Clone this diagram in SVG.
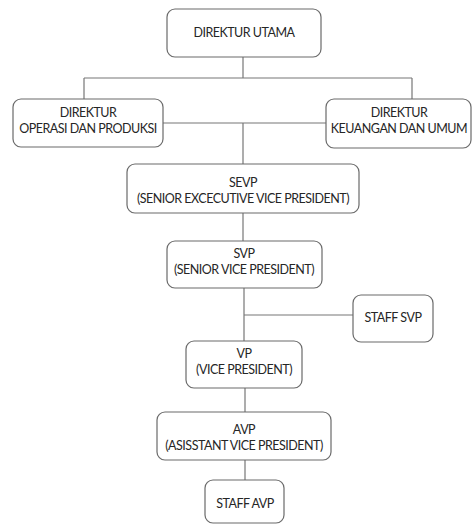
<svg xmlns="http://www.w3.org/2000/svg" width="472" height="525" viewBox="0 0 472 525">
<style>
.box{fill:#fff;stroke:#6a6a6a;stroke-width:1.2}
.ln{stroke:#777;stroke-width:1.2;fill:none}
text{font-family:Lato,"Open Sans","Liberation Sans",sans-serif;font-size:12.5px;fill:#262626;text-anchor:middle;letter-spacing:-0.5px}
</style>
<rect width="472" height="525" fill="#fff"/>
<g id="connectors">
<path class="ln" d="M243 57V78M84 78H412M84 78V99M412 78V99M163 123H326M243 123V164M243 213V241M244 288V341M244 315H353M245 388V412M245 460V480"/>
</g>
<g id="direktur-utama"><rect class="box" x="167" y="9" width="154" height="48" rx="8"/><text x="244" y="37">DIREKTUR UTAMA</text></g>
<g id="direktur-operasi"><rect class="box" x="13" y="99" width="150" height="48" rx="8"/><text x="88" y="117">DIREKTUR</text><text x="88" y="133">OPERASI DAN PRODUKSI</text></g>
<g id="direktur-keuangan"><rect class="box" x="326" y="99" width="145" height="49" rx="8"/><text x="399" y="117">DIREKTUR</text><text x="399" y="133">KEUANGAN DAN UMUM</text></g>
<g id="sevp"><rect class="box" x="127" y="164" width="232" height="49" rx="8"/><text x="243" y="187">SEVP</text><text x="243" y="203">(SENIOR EXCECUTIVE VICE PRESIDENT)</text></g>
<g id="svp"><rect class="box" x="167" y="241" width="155" height="47" rx="8"/><text x="244" y="258">SVP</text><text x="244" y="274">(SENIOR VICE PRESIDENT)</text></g>
<g id="staff-svp"><rect class="box" x="353" y="295" width="80" height="47" rx="8"/><text x="393" y="322">STAFF SVP</text></g>
<g id="vp"><rect class="box" x="186" y="341" width="116" height="47" rx="8"/><text x="244" y="358">VP</text><text x="244" y="374">(VICE PRESIDENT)</text></g>
<g id="avp"><rect class="box" x="157" y="412" width="174" height="48" rx="8"/><text x="244" y="434">AVP</text><text x="244" y="450">(ASISSTANT VICE PRESIDENT)</text></g>
<g id="staff-avp"><rect class="box" x="205" y="480" width="79" height="43" rx="8"/><text x="245" y="508">STAFF AVP</text></g>
</svg>
